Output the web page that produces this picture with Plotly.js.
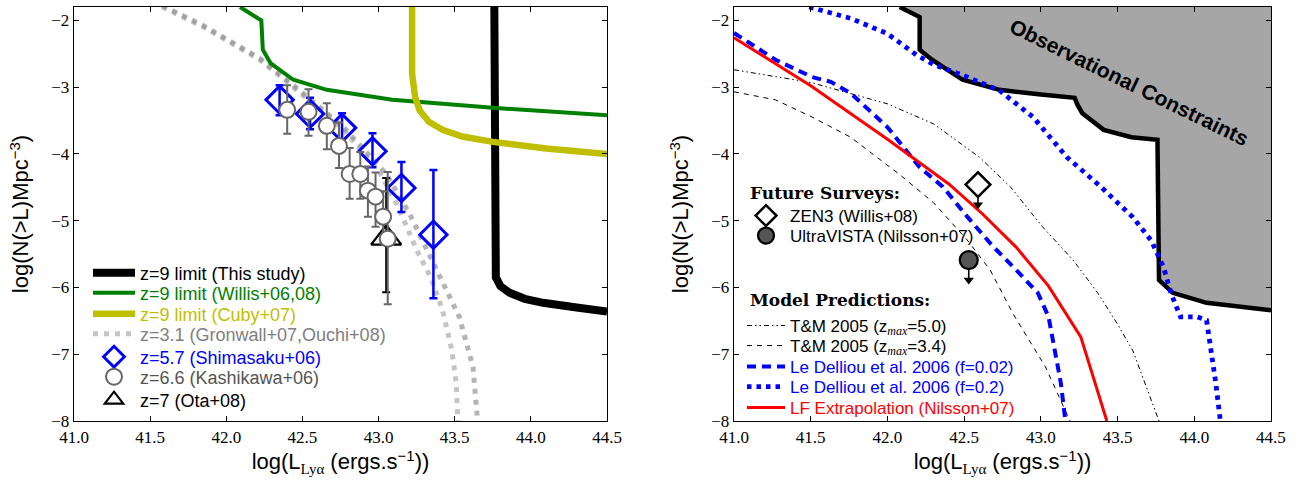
<!DOCTYPE html>
<html><head><meta charset="utf-8">
<script src="https://cdn.plot.ly/plotly-3.0.1.min.js"></script>
<style>body{margin:0;background:#fff}#chart{width:1299px;height:481px}</style>
</head><body><div id="chart"></div>
<script>
// ---------- LEFT PANEL DATA ----------
const gronX = [41.58, 41.85, 42.22, 42.44, 42.77, 43.00, 43.13, 43.25, 43.34, 43.42, 43.48, 43.51, 43.52];
const gronY = [-1.80, -2.10, -2.59, -3.00, -3.64, -4.25, -4.80, -5.44, -5.84, -6.34, -6.93, -7.43, -8.00];
const ouchiX = [41.58, 41.85, 42.22, 42.44, 42.77, 43.05, 43.20, 43.32, 43.53, 43.62, 43.645, 43.65];
const ouchiY = [-1.78, -2.08, -2.57, -2.97, -3.60, -4.30, -4.88, -5.44, -6.44, -7.19, -7.83, -8.00];

const thisX = [43.76, 43.76, 43.77, 43.80, 43.86, 43.96, 44.08, 44.30, 44.50];
const thisY = [-1.80, -5.60, -5.85, -5.98, -6.08, -6.17, -6.23, -6.30, -6.36];
const willisX = [42.09, 42.23, 42.24, 42.29, 42.44, 42.66, 43.09, 43.75, 44.50];
const willisY = [-1.80, -2.00, -2.44, -2.64, -2.89, -3.04, -3.19, -3.31, -3.42];
const cubyX = [43.22, 43.22, 43.24, 43.27, 43.33, 43.42, 43.55, 43.75, 44.10, 44.50];
const cubyY = [-1.80, -2.80, -3.15, -3.35, -3.52, -3.64, -3.74, -3.82, -3.92, -4.00];

const shimX = [42.35, 42.55, 42.76, 42.96, 43.15, 43.36];
const shimY = [-3.19, -3.40, -3.61, -3.96, -4.51, -5.21];
const shimErrUp = [0.22, 0.24, 0.22, 0.27, 0.39, 0.97];
const shimErrDn = [0.23, 0.23, 0.21, 0.24, 0.36, 0.95];

const kashX = [42.40, 42.54, 42.66, 42.74, 42.81, 42.88, 42.93, 42.98, 43.03, 43.06];
const kashY = [-3.34, -3.37, -3.58, -3.88, -4.30, -4.30, -4.55, -4.64, -4.94, -5.27];
const kashErrUp = [0.37, 0.34, 0.34, 0.35, 0.39, 0.33, 0.36, 0.36, 0.38, 1.00];
const kashErrDn = [0.36, 0.36, 0.35, 0.33, 0.37, 0.37, 0.39, 0.45, 0.40, 0.98];

const otaX = [43.05];
const otaY = [-5.26];
const otaErrUp = [0.90];
const otaErrDn = [0.81];

// ---------- RIGHT PANEL DATA ----------
const consX = [42.08, 42.21, 42.21, 42.29, 42.49, 42.73, 43.00, 43.22, 43.24, 43.27, 43.41, 43.59, 43.76, 43.77, 43.86, 44.08, 44.50];
const consY = [-1.80, -1.95, -2.44, -2.59, -2.89, -3.04, -3.11, -3.16, -3.27, -3.39, -3.64, -3.75, -3.79, -5.89, -6.08, -6.23, -6.34];
const consCornerX = [44.50];
const consCornerY = [-1.80];

const tm50X = [41.00, 41.50, 42.00, 42.30, 42.60, 42.80, 43.01, 43.21, 43.37, 43.50, 43.60, 43.69, 43.77];
const tm50Y = [-2.74, -2.93, -3.25, -3.55, -4.05, -4.49, -5.09, -5.59, -6.08, -6.55, -6.95, -7.50, -8.00];
const tm34X = [41.00, 41.27, 41.51, 41.76, 42.08, 42.30, 42.52, 42.67, 42.82, 43.03, 43.19];
const tm34Y = [-3.07, -3.19, -3.45, -3.75, -4.31, -4.73, -5.29, -5.74, -6.40, -7.19, -8.00];
const ld002X = [41.00, 41.27, 41.51, 41.63, 41.76, 42.00, 42.21, 42.36, 42.52, 42.69, 42.84, 42.98, 43.05, 43.09, 43.13, 43.16];
const ld002Y = [-2.19, -2.59, -2.85, -2.92, -3.09, -3.60, -4.20, -4.49, -4.94, -5.39, -5.74, -6.08, -6.44, -6.93, -7.43, -8.00];
const ld02X = [41.49, 41.76, 42.00, 42.19, 42.30, 42.49, 42.73, 42.95, 43.17, 43.39, 43.60, 43.72, 43.80, 43.85, 43.91, 44.02, 44.08, 44.11, 44.14, 44.17];
const ld02Y = [-1.80, -1.97, -2.20, -2.52, -2.66, -2.82, -3.05, -3.45, -4.05, -4.49, -4.95, -5.30, -5.70, -6.10, -6.44, -6.44, -6.49, -6.93, -7.43, -8.00];
const lfX = [41.00, 41.50, 42.00, 42.40, 42.62, 42.84, 43.05, 43.26, 43.43];
const lfY = [-2.26, -2.98, -3.78, -4.45, -4.90, -5.40, -5.98, -6.74, -8.00];

const zenX = [42.59];
const zenY = [-4.46];
const vistaX = [42.53];
const vistaY = [-5.59];
const arrowLen = 0.30; // upper-limit arrow length (dex)

// ---------- helpers ----------
const SANS = 'Liberation Sans, Arial, sans-serif';
const SERIF = 'Liberation Serif, Times New Roman, serif';
const sup = t => '<span style="font-size:15px;baseline-shift:8px">' + t + '</span>';
const subSerif = (t, size, shift, italic) => '<span style="font-family:Liberation Serif;font-size:' + size +
  'px;baseline-shift:' + shift + 'px' + (italic ? ';font-style:italic' : '') + '">' + t + '</span>';

const traces = [];
// left panel
traces.push({x: gronX, y: gronY, xaxis: 'x', yaxis: 'y', mode: 'lines', legend: 'legend4',
  line: {color: 'rgba(150,150,150,0.55)', width: 5, dash: '5px,6px'}, name: 'z=3.1 (Gronwall+07,Ouchi+08)'});
traces.push({x: ouchiX, y: ouchiY, xaxis: 'x', yaxis: 'y', mode: 'lines', showlegend: false,
  line: {color: 'rgba(140,140,140,0.65)', width: 5, dash: '5px,6px'}});
traces.push({x: thisX, y: thisY, xaxis: 'x', yaxis: 'y', mode: 'lines', legend: 'legend',
  line: {color: 'black', width: 8}, name: 'z=9 limit (This study)'});
traces.push({x: willisX, y: willisY, xaxis: 'x', yaxis: 'y', mode: 'lines', legend: 'legend2',
  line: {color: '#008000', width: 4}, name: 'z=9 limit (Willis+06,08)'});
traces.push({x: cubyX, y: cubyY, xaxis: 'x', yaxis: 'y', mode: 'lines', legend: 'legend3',
  line: {color: '#bfbf00', width: 6.5}, name: 'z=9 limit (Cuby+07)'});
traces.push({x: otaX, y: otaY, xaxis: 'x', yaxis: 'y', mode: 'markers', legend: 'legend7',
  marker: {symbol: 'triangle-up-open', size: 26, color: 'black', line: {width: 2.2, color: 'black'}},
  error_y: {type: 'data', symmetric: false, array: otaErrUp, arrayminus: otaErrDn, color: 'black', thickness: 2, width: 4},
  name: 'z=7 (Ota+08)'});
traces.push({x: shimX, y: shimY, xaxis: 'x', yaxis: 'y', mode: 'markers', legend: 'legend5',
  marker: {symbol: 'diamond-open', size: 21, color: 'blue', line: {width: 3, color: 'blue'}},
  error_y: {type: 'data', symmetric: false, array: shimErrUp, arrayminus: shimErrDn, color: 'blue', thickness: 2.5, width: 4},
  name: 'z=5.7 (Shimasaku+06)'});
traces.push({x: kashX, y: kashY, xaxis: 'x', yaxis: 'y', mode: 'markers', legend: 'legend6',
  marker: {symbol: 'circle', size: 16, color: 'white', line: {width: 2, color: '#666666'}},
  error_y: {type: 'data', symmetric: false, array: kashErrUp, arrayminus: kashErrDn, color: '#666666', thickness: 2, width: 4},
  name: 'z=6.6 (Kashikawa+06)'});

// right panel
traces.push({x: consX.concat(consCornerX), y: consY.concat(consCornerY), xaxis: 'x2', yaxis: 'y2', mode: 'lines',
  fill: 'toself', fillcolor: '#a6a6a6', line: {width: 0, color: 'rgba(0,0,0,0)'}, showlegend: false, hoverinfo: 'skip'});
traces.push({x: consX, y: consY, xaxis: 'x2', yaxis: 'y2', mode: 'lines', showlegend: false,
  line: {color: 'black', width: 4.5}});
traces.push({x: tm50X, y: tm50Y, xaxis: 'x2', yaxis: 'y2', mode: 'lines', legend: 'legend10',
  line: {color: 'black', width: 1, dash: '5px,3px,1.5px,3px,1.5px,3px'},
  name: 'T&amp;M 2005 (z' + subSerif('max', 12, -3, true) + '=5.0)'});
traces.push({x: tm34X, y: tm34Y, xaxis: 'x2', yaxis: 'y2', mode: 'lines', legend: 'legend11',
  line: {color: 'black', width: 1, dash: '5px,5px'},
  name: 'T&amp;M 2005 (z' + subSerif('max', 12, -3, true) + '=3.4)'});
traces.push({x: ld002X, y: ld002Y, xaxis: 'x2', yaxis: 'y2', mode: 'lines', legend: 'legend12',
  line: {color: 'blue', width: 4, dash: '9px,6px'}, name: 'Le Delliou et al. 2006 (f=0.02)'});
traces.push({x: ld02X, y: ld02Y, xaxis: 'x2', yaxis: 'y2', mode: 'lines', legend: 'legend13',
  line: {color: 'blue', width: 4.8, dash: '4.5px,5px'}, name: 'Le Delliou et al. 2006 (f=0.2)'});
traces.push({x: lfX, y: lfY, xaxis: 'x2', yaxis: 'y2', mode: 'lines', legend: 'legend14',
  line: {color: 'red', width: 3}, name: 'LF Extrapolation (Nilsson+07)'});

// upper-limit arrows
function arrow(xs, ys) {
  return {x: xs, y: ys.map(v => v - arrowLen), xaxis: 'x2', yaxis: 'y2', mode: 'markers', showlegend: false,
    marker: {symbol: 'triangle-down', size: 9, color: 'black'},
    error_y: {type: 'data', symmetric: false, array: ys.map(() => arrowLen), arrayminus: ys.map(() => 0), color: 'black', thickness: 1.6, width: 0}};
}
traces.push(arrow(zenX, zenY));
traces.push(arrow(vistaX, vistaY));
traces.push({x: zenX, y: zenY, xaxis: 'x2', yaxis: 'y2', mode: 'markers', legend: 'legend8',
  marker: {symbol: 'diamond', size: 19, color: 'white', line: {width: 2.5, color: 'black'}},
  name: 'ZEN3 (Willis+08)'});
traces.push({x: vistaX, y: vistaY, xaxis: 'x2', yaxis: 'y2', mode: 'markers', legend: 'legend9',
  marker: {symbol: 'circle', size: 18, color: '#555555', line: {width: 2.2, color: 'black'}},
  name: 'UltraVISTA (Nilsson+07)'});

const xTitle = 'log(L' + subSerif('Ly\u03b1', 15, -5, false) + ' (ergs.s' + sup('\u22121') + '))';
const yTitle = 'log(N(&gt;L)Mpc' + sup('\u22123') + ')';

function xAxis(domain, anchor) {
  return {domain: domain, anchor: anchor, range: [41.0, 44.5], tickmode: 'linear', tick0: 41, dtick: 0.5, tickformat: '.1f',
    ticks: 'inside', ticklen: 5, tickwidth: 1, tickcolor: 'black', showline: true, linecolor: 'black', linewidth: 1.3,
    mirror: 'ticks', showgrid: false, zeroline: false, tickfont: {family: SERIF, size: 17, color: 'black'},
    title: {text: xTitle, font: {family: SANS, size: 22, color: 'black'}, standoff: 8}};
}
function yAxis(anchor) {
  return {domain: [0, 1], anchor: anchor, range: [-8, -1.8], tickmode: 'linear', tick0: -8, dtick: 1,
    ticks: 'inside', ticklen: 5, tickwidth: 1, tickcolor: 'black', showline: true, linecolor: 'black', linewidth: 1.3,
    mirror: 'ticks', showgrid: false, zeroline: false, tickfont: {family: SERIF, size: 17, color: 'black'},
    title: {text: yTitle, font: {family: SANS, size: 22, color: 'black'}, standoff: 16}};
}

// one legend box per entry so that rows sit where the reference puts them
function leg(px, py, color, size, iw) {
  return {x: (px - 74) / 1197, y: (421 - py) / 414, xanchor: 'left', yanchor: 'middle',
    bgcolor: 'rgba(0,0,0,0)', borderwidth: 0, itemwidth: iw, font: {family: SANS, size: size, color: color}};
}

const layout = {
  width: 1299, height: 481,
  margin: {l: 74, r: 28, t: 7, b: 60},
  paper_bgcolor: 'white', plot_bgcolor: 'white',
  font: {family: SANS, color: 'black'},
  xaxis: xAxis([0, 0.4453], 'y'),
  yaxis: yAxis('x'),
  xaxis2: xAxis([0.5514, 1], 'y2'),
  yaxis2: yAxis('x2'),
  legend:   leg(88, 273, 'black', 18, 42),
  legend2:  leg(88, 293, '#008000', 18, 42),
  legend3:  leg(88, 314, '#bfbf00', 18, 42),
  legend4:  leg(88, 334, '#808080', 18, 42),
  legend5:  leg(88, 357, 'blue', 18, 42),
  legend6:  leg(88, 377, '#555555', 18, 42),
  legend7:  leg(88, 400, 'black', 18, 42),
  legend8:  leg(742, 216, 'black', 17, 38),
  legend9:  leg(742, 236, 'black', 17, 38),
  legend10: leg(742, 326, 'black', 17, 38),
  legend11: leg(742, 346, 'black', 17, 38),
  legend12: leg(742, 367, 'blue', 17, 38),
  legend13: leg(742, 387, 'blue', 17, 38),
  legend14: leg(742, 408, 'red', 17, 38),
  annotations: [
    {text: '<b>Observational Constraints</b>', x: 43.58, y: -2.93, xref: 'x2', yref: 'y2',
      showarrow: false, textangle: 26, font: {family: SANS, size: 21, color: 'black'}},
    {text: '<b>Future Surveys:</b>', x: (748 - 74) / 1197, y: (421 - 193) / 414, xref: 'paper', yref: 'paper',
      xanchor: 'left', yanchor: 'middle', showarrow: false, font: {family: 'DejaVu Serif', size: 17, color: 'black'}},
    {text: '<b>Model Predictions:</b>', x: (748 - 74) / 1197, y: (421 - 300) / 414, xref: 'paper', yref: 'paper',
      xanchor: 'left', yanchor: 'middle', showarrow: false, font: {family: 'DejaVu Serif', size: 17, color: 'black'}}
  ],
  showlegend: true
};

Plotly.newPlot('chart', traces, layout, {staticPlot: true, displayModeBar: false});
</script>
</body></html>
